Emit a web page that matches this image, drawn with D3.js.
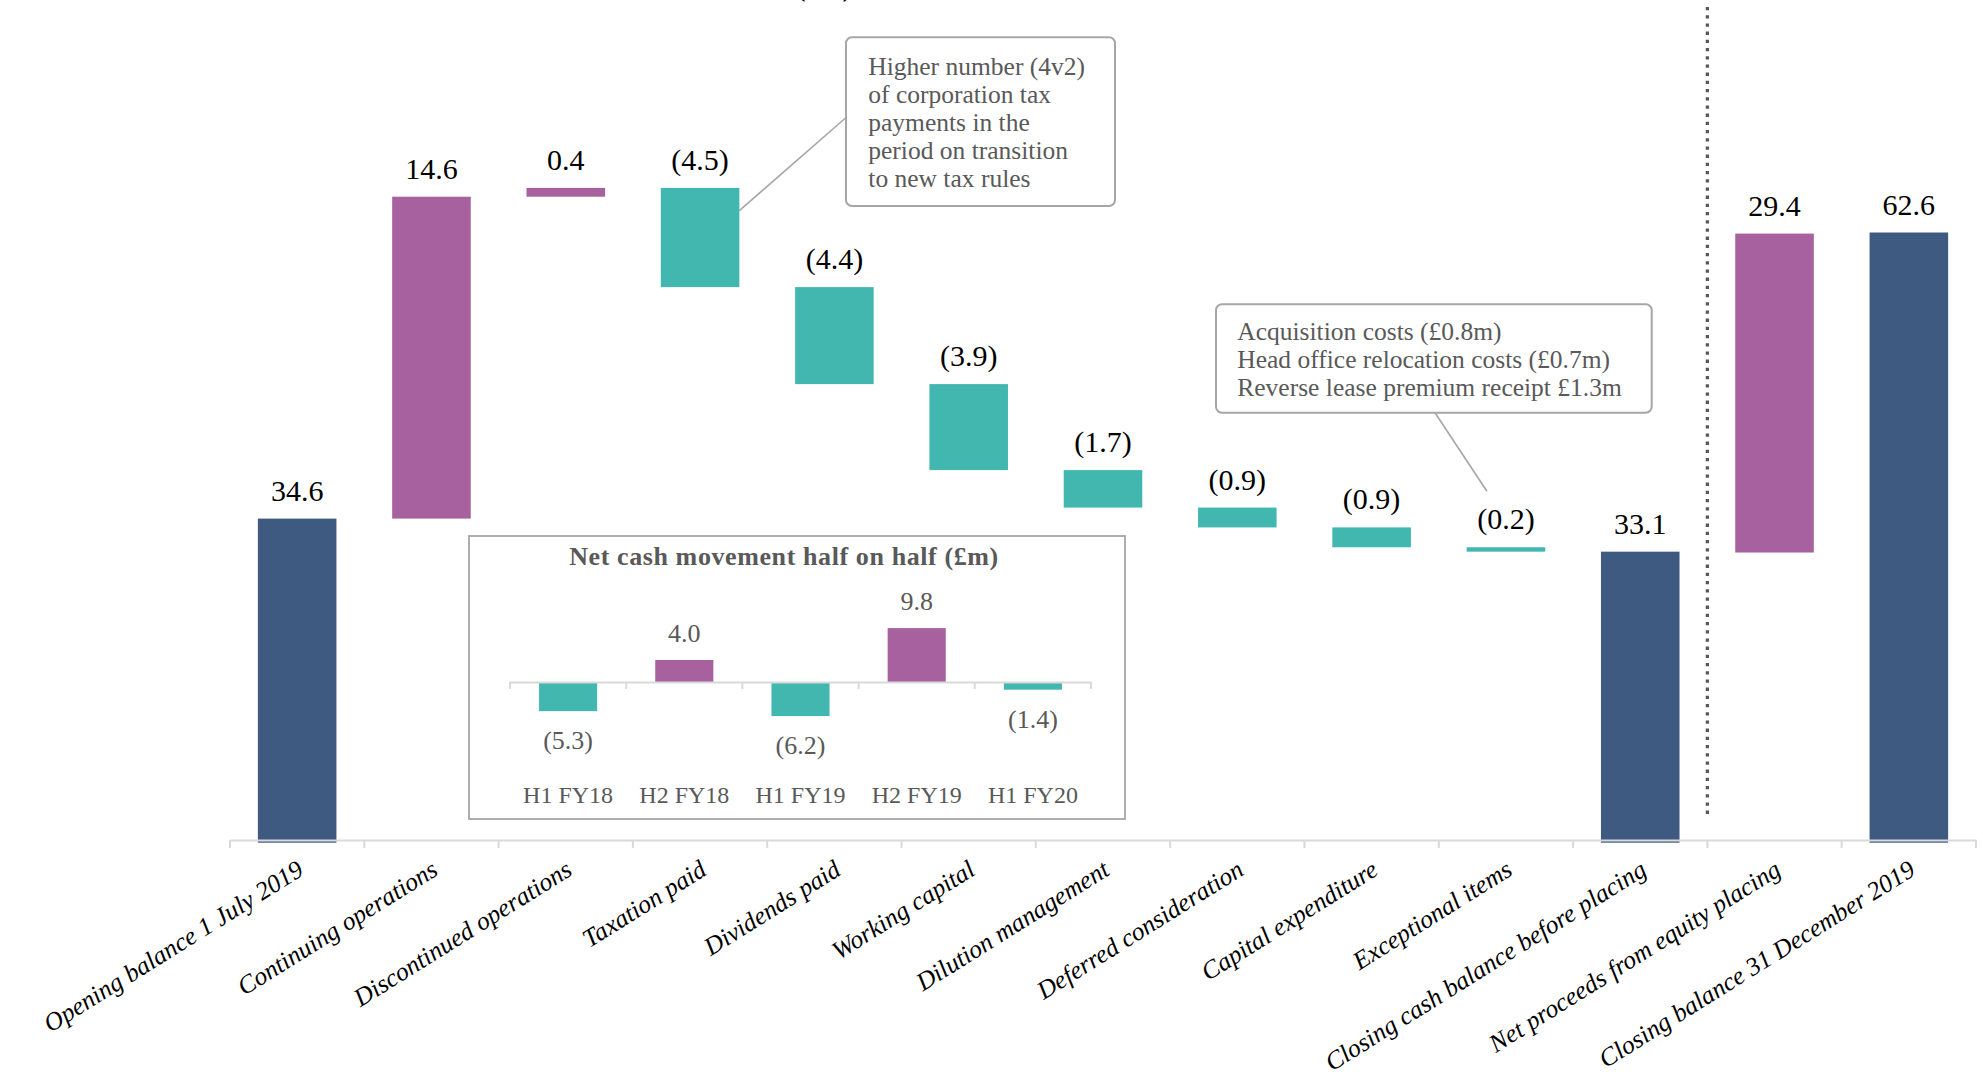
<!DOCTYPE html>
<html>
<head>
<meta charset="utf-8">
<script src="https://cdn.jsdelivr.net/npm/d3@7"></script>
<style>
  html, body { margin: 0; padding: 0; background: #ffffff; }
  svg { display: block; }
  text { font-family: "Liberation Serif", "Times New Roman", serif; }
</style>
</head>
<body>
<svg id="chart" width="1983" height="1085"></svg>
<script>
// ---------- DATA ----------
const categories = [
  "Opening balance 1 July 2019",
  "Continuing operations",
  "Discontinued operations",
  "Taxation paid",
  "Dividends paid",
  "Working capital",
  "Dilution management",
  "Deferred consideration",
  "Capital expenditure",
  "Exceptional items",
  "Closing cash balance before placing",
  "Net proceeds from equity placing",
  "Closing balance 31 December 2019"
];
const values = [34.6, 14.6, 0.4, -4.5, -4.4, -3.9, -1.7, -0.9, -0.9, -0.2, 33.1, 29.4, 62.6];
const barTypes = ["total", "delta", "delta", "delta", "delta", "delta", "delta", "delta", "delta", "delta", "total", "delta", "total"];
// section 0 = before placing, section 1 = after the dotted divider
const sections = [0, 0, 0, 0, 0, 0, 0, 0, 0, 0, 0, 1, 1];

const insetCategories = ["H1 FY18", "H2 FY18", "H1 FY19", "H2 FY19", "H1 FY20"];
const insetValues = [-5.3, 4.0, -6.2, 9.8, -1.4];
const insetTitle = "Net cash movement half on half (£m)";

const note1Lines = ["Higher number (4v2)", "of corporation tax", "payments in the", "period on transition", "to new tax rules"];
const note2Lines = ["Acquisition costs (£0.8m)", "Head office relocation costs (£0.7m)", "Reverse lease premium receipt £1.3m"];
const chartTitle = "Net cash movement H1 FY20 (£m)";

// ---------- STYLE ----------
const colTotal = "#3F5A80", colUp = "#A6619E", colDown = "#42B7B0";
const gridGrey = "#D9D9D9", boxGrey = "#A6A6A6", textGrey = "#595959";
const fmt = v => v < 0 ? "(" + Math.abs(v).toFixed(1) + ")" : v.toFixed(1);

const svg = d3.select("#chart");

// ---------- SCALES ----------
const baseY = 842.7;
const x = d3.scaleBand().domain(categories).range([230, 1976]).paddingInner(0.415).paddingOuter(0.2075);
const yScales = [
  d3.scaleLinear().domain([19.9, 34.6]).range([baseY, 518.6]),
  d3.scaleLinear().domain([6.35, 62.6]).range([baseY, 232.5])
];

// waterfall geometry
let running = 0;
const bars = categories.map((c, i) => {
  const v = values[i];
  const y = yScales[sections[i]];
  let lo, hi, color;
  if (barTypes[i] === "total") {
    lo = y.domain()[0]; hi = v; running = v; color = colTotal;
  } else {
    const start = running, end = running + v;
    lo = Math.min(start, end); hi = Math.max(start, end); running = end;
    color = v >= 0 ? colUp : colDown;
  }
  return { c, v, i, y, lo, hi, color, top: y(hi), bottom: y(lo) };
});

// title (cut off at top edge, as in the source)
svg.append("text").attr("x", 852).attr("y", -4).attr("text-anchor", "end")
  .attr("font-size", 28).attr("font-weight", "bold").attr("fill", "#000").text(chartTitle);

// bars
svg.append("g").selectAll("rect").data(bars).join("rect")
  .attr("x", d => x(d.c)).attr("width", x.bandwidth())
  .attr("y", d => d.top).attr("height", d => Math.max(1, d.bottom - d.top))
  .attr("fill", d => d.color);

// value labels
svg.append("g").selectAll("text").data(bars).join("text")
  .attr("x", d => x(d.c) + x.bandwidth() / 2)
  .attr("y", d => d.top - 18)
  .attr("text-anchor", "middle").attr("font-size", 30).attr("fill", "#000")
  .text(d => fmt(d.v));

// category axis
const axisG = svg.append("g").attr("transform", "translate(0,840)")
  .call(d3.axisBottom(x).tickSize(0).tickSizeOuter(0));
axisG.select(".domain").attr("stroke", gridGrey).attr("stroke-width", 2);
axisG.selectAll(".tick text")
  .attr("y", 0).attr("dy", 0)
  .attr("text-anchor", "end")
  .attr("transform", "translate(8,34) rotate(-32)")
  .attr("font-family", "Liberation Serif").attr("font-style", "italic")
  .attr("font-size", 25.5).attr("fill", "#000");
const step = x.step();
axisG.append("g").selectAll("line").data(d3.range(categories.length + 1)).join("line")
  .attr("x1", i => x.range()[0] + i * step).attr("x2", i => x.range()[0] + i * step)
  .attr("y1", 0).attr("y2", 8).attr("stroke", gridGrey).attr("stroke-width", 2);

// dotted divider between sections
const divX = x(categories[11]) - step * x.paddingInner() / 2;
svg.append("line").attr("x1", divX).attr("x2", divX).attr("y1", 7).attr("y2", 817)
  .attr("stroke", "#595959").attr("stroke-width", 3.3).attr("stroke-dasharray", "3.3 4.9");

// ---------- CALLOUTS ----------
function callout(x0, y0, w, h, lines, tx, ty0) {
  const g = svg.append("g");
  g.append("rect").attr("x", x0).attr("y", y0).attr("width", w).attr("height", h)
    .attr("rx", 6).attr("fill", "#fff").attr("stroke", boxGrey).attr("stroke-width", 2);
  g.selectAll("text").data(lines).join("text")
    .attr("x", tx).attr("y", (d, i) => ty0 + i * 27.9)
    .attr("font-size", 25.5).attr("fill", textGrey).text(d => d);
}
// leader 1 -> taxation bar
const tax = bars[3];
svg.append("line").attr("x1", 845.5).attr("y1", 118)
  .attr("x2", x(tax.c) + x.bandwidth()).attr("y2", tax.y(tax.hi - 1.03))
  .attr("stroke", boxGrey).attr("stroke-width", 1.6);
callout(846, 37.3, 269, 168.7, note1Lines, 868.3, 75);

// leader 2 -> exceptional items label
const exc = bars[9];
svg.append("line").attr("x1", 1435).attr("y1", 412.7)
  .attr("x2", x(exc.c) + x.bandwidth() / 2 - 19).attr("y2", exc.top - 18 - 38)
  .attr("stroke", boxGrey).attr("stroke-width", 1.6);
callout(1216, 304.3, 435.7, 108.4, note2Lines, 1237.3, 340);

// ---------- INSET ----------
const inset = svg.append("g");
inset.append("rect").attr("x", 469).attr("y", 536).attr("width", 656).attr("height", 283)
  .attr("fill", "#fff").attr("stroke", boxGrey).attr("stroke-width", 1.8);
inset.append("text").attr("x", 784).attr("y", 565).attr("text-anchor", "middle")
  .attr("font-size", 26).attr("font-weight", "bold").attr("letter-spacing", 0.6)
  .attr("fill", textGrey).text(insetTitle);

const xi = d3.scaleBand().domain(insetCategories).range([510, 1091]).paddingInner(0.5).paddingOuter(0.25);
const yi = d3.scaleLinear().domain([0, 10]).range([682, 627]);

inset.append("g").selectAll("rect").data(insetValues).join("rect")
  .attr("x", (d, i) => xi(insetCategories[i])).attr("width", xi.bandwidth())
  .attr("y", d => yi(Math.max(0, d))).attr("height", d => Math.abs(yi(d) - yi(0)))
  .attr("fill", d => d >= 0 ? colUp : colDown);

inset.append("g").selectAll("text").data(insetValues).join("text")
  .attr("x", (d, i) => xi(insetCategories[i]) + xi.bandwidth() / 2)
  .attr("y", d => d >= 0 ? yi(d) - 18 : yi(d) + 38)
  .attr("text-anchor", "middle").attr("font-size", 26).attr("fill", textGrey)
  .text(d => fmt(d));

const iaxis = inset.append("g").attr("transform", "translate(0," + yi(0) + ")")
  .call(d3.axisBottom(xi).tickSize(0).tickSizeOuter(0));
iaxis.select(".domain").attr("stroke", gridGrey).attr("stroke-width", 2);
iaxis.selectAll(".tick text").attr("y", 120.7).attr("dy", 0)
  .attr("font-family", "Liberation Serif").attr("font-size", 24).attr("fill", textGrey);
iaxis.append("g").selectAll("line").data(d3.range(insetCategories.length + 1)).join("line")
  .attr("x1", i => xi.range()[0] + i * xi.step()).attr("x2", i => xi.range()[0] + i * xi.step())
  .attr("y1", 0).attr("y2", 7).attr("stroke", gridGrey).attr("stroke-width", 2);
</script>
</body>
</html>
